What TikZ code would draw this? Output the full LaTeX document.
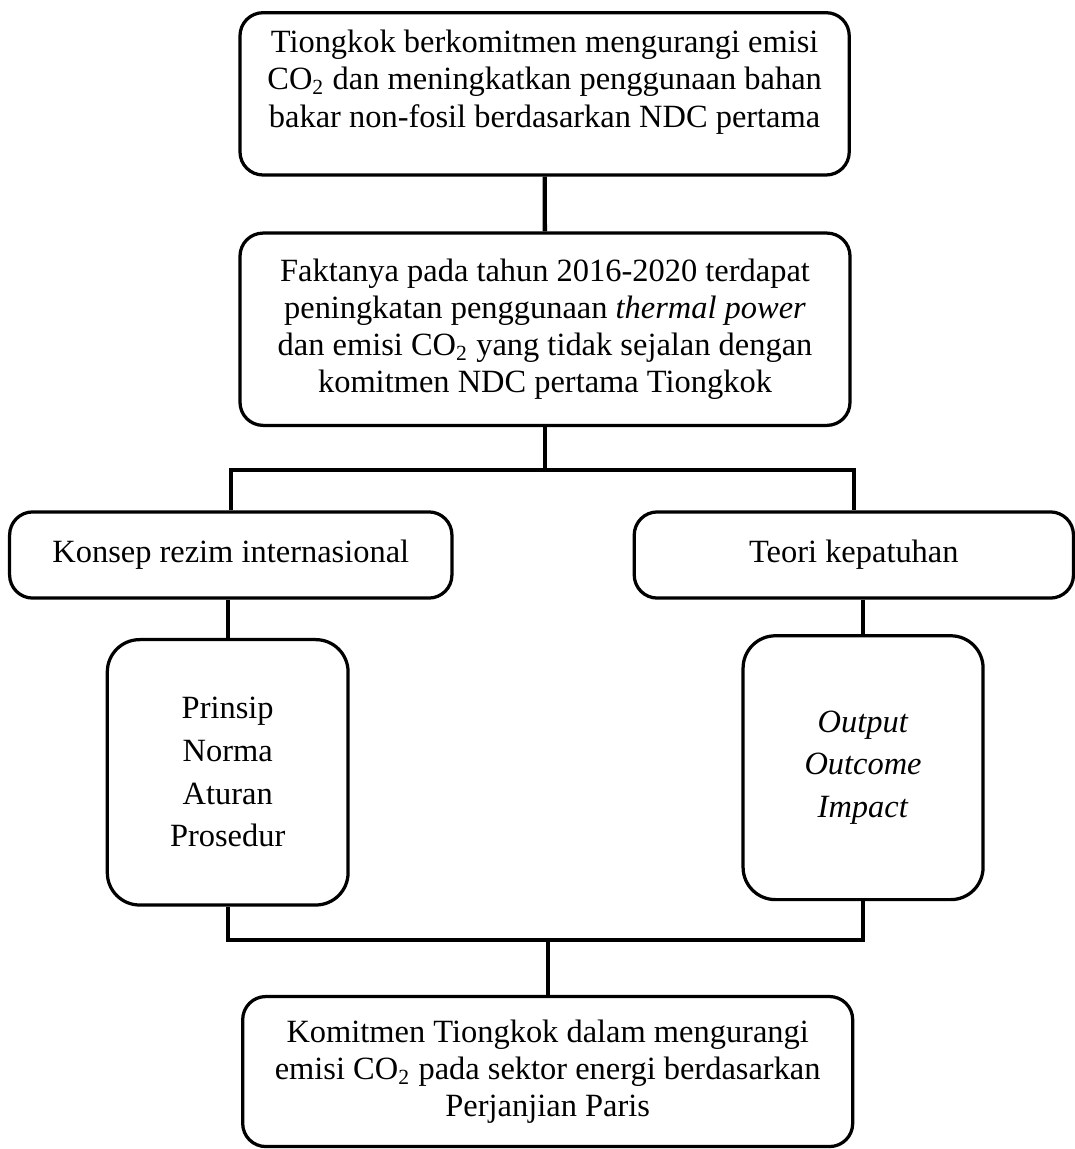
\documentclass[tikz,border=0pt]{standalone}
\usepackage{fontspec}
\setmainfont{Liberation Serif}
\begin{document}
\begin{tikzpicture}[
	box/.style={draw, line width=1.2pt, rounded corners=0.3cm, align=center,
		font=\fontsize{12}{13.8}\selectfont, inner sep=0pt},
	tallbox/.style={box, rounded corners=0.42cm, font=\fontsize{12}{15.8}\selectfont},
	link/.style={line width=1.6pt}]
	\useasboundingbox (0,0) rectangle (13.975,-14.937);
	
	%Commitment
	\node[box, minimum width=7.92cm, minimum height=2.11cm] (commit) at (7.08,-1.22)
		{Tiongkok berkomitmen mengurangi emisi\\
		CO\textsubscript{2} dan meningkatkan penggunaan bahan\\
		bakar non-fosil berdasarkan NDC pertama\\[-2.5pt]\mbox{}};
	
	%Fact
	\node[box, minimum width=7.93cm, minimum height=2.5cm] (fact) at (7.085,-4.28)
		{Faktanya pada tahun 2016-2020 terdapat\\
		peningkatan penggunaan \textit{thermal power}\\
		dan emisi CO\textsubscript{2} yang tidak sejalan dengan\\
		komitmen NDC pertama Tiongkok};
	
	%Two frameworks
	\node[box, minimum width=5.75cm, minimum height=1.12cm] (regime) at (3.0,-7.215)
		{Konsep rezim internasional};
	\node[box, minimum width=5.71cm, minimum height=1.12cm] (comply) at (11.1,-7.215)
		{Teori kepatuhan};
	
	%Their parts
	\node[tallbox, minimum width=3.13cm, minimum height=3.45cm] (pillars) at (2.96,-10.04)
		{Prinsip\\ Norma\\ Aturan\\ Prosedur};
	\node[tallbox, minimum width=3.12cm, minimum height=3.43cm] (levels) at (11.22,-9.98)
		{\textit{Output}\\ \textit{Outcome}\\ \textit{Impact}};
	
	%Result
	\node[box, minimum width=7.93cm, minimum height=1.95cm] (result) at (7.12,-13.93)
		{Komitmen Tiongkok dalam mengurangi\\
		emisi CO\textsubscript{2} pada sektor energi berdasarkan\\
		Perjanjian Paris};
	
	%Connectors
	\coordinate (split) at (7.085,-6.11);
	\coordinate (merge) at (7.12,-12.22);
	\draw[link] (commit) -- (fact);
	\draw[link] (fact.south) -- (split);
	\draw[link] (regime.north) |- (split) -| (comply.north);
	\draw[link] (pillars.north) -- (pillars.north |- regime.south);
	\draw[link] (levels.north) -- (levels.north |- comply.south);
	\draw[link] (pillars.south) |- (merge) -| (levels.south);
	\draw[link] (merge) -- (result.north);
	
\end{tikzpicture}
\end{document}
